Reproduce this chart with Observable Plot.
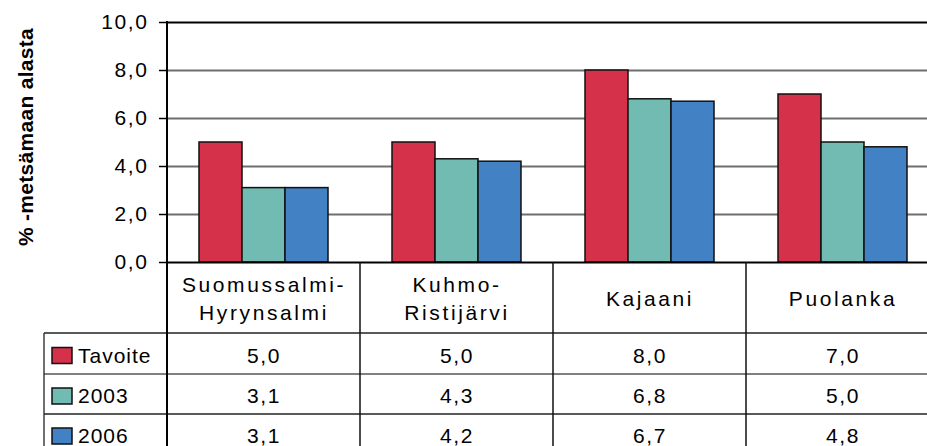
<!DOCTYPE html>
<html><head><meta charset="utf-8">
<script src="https://cdn.jsdelivr.net/npm/d3@7"></script>
<script src="https://cdn.jsdelivr.net/npm/@observablehq/plot@0.6"></script>
<style>
html,body{margin:0;padding:0;background:#fff;overflow:hidden;}
</style></head><body><div id="chart"></div>
<script>
// ---- data ----
const regions = ["Suomussalmi-\nHyrynsalmi", "Kuhmo-\nRistijärvi", "Kajaani", "Puolanka"];
const seriesNames = ["Tavoite", "2003", "2006"];
const tavoite = [5.0, 5.0, 8.0, 7.0];
const y2003 = [3.1, 4.3, 6.8, 5.0];
const y2006 = [3.1, 4.2, 6.7, 4.8];
const yTicks = [0, 2, 4, 6, 8, 10];
const gridTicks = [2, 4, 6, 8];
const colors = ["#D5314A", "#72BBB2", "#4181C4"];
const yLabel = "% -metsämaan alasta";

const seriesValues = [tavoite, y2003, y2006];
const data = [];
seriesNames.forEach((s, i) => regions.forEach((r, j) => data.push({region: r, series: s, value: seriesValues[i][j], row: i})));
const fmt = d => d.toFixed(1).replace(".", ",");

// layout (pixels)
const W = 941, H = 446;
const FS = 21;
const labelRowH = 71, rowH = [41, 40, 40];
const rowTop = [labelRowH, labelRowH + rowH[0], labelRowH + rowH[0] + rowH[1]];
const rowMid = rowTop.map((t, i) => t + rowH[i] / 2 + 2);
const FONT = "'Liberation Sans', Arial, sans-serif";

const chart = Plot.plot({
  width: W, height: H,
  marginTop: 22, marginLeft: 165, marginRight: 1, marginBottom: 184,
  style: `font-family: ${FONT}; font-size: ${FS}px; letter-spacing: 1.6px; background: #fff; overflow: visible; max-width: none; width: ${W}px; height: ${H}px;`,
  fx: {domain: regions, padding: 0, axis: null},
  x: {domain: seriesNames, paddingInner: 0, paddingOuter: 0.74, axis: null},
  y: {domain: [0, 10], axis: null},
  color: {domain: seriesNames, range: colors},
  marks: [
    Plot.ruleY(gridTicks, {stroke: "#6f6f6f", strokeWidth: 2}),
    Plot.barY(data, {fx: "region", x: "series", y: "value", fill: "series", stroke: "#111", strokeWidth: 1.5}),
    Plot.ruleY([10], {stroke: "#000", strokeWidth: 2}),
    Plot.ruleY([0], {stroke: "#000", strokeWidth: 2}),
    Plot.axisY({ticks: yTicks, tickFormat: fmt, tickSize: 8, tickPadding: 11, label: null, stroke: "#000", strokeWidth: 1.5, fontSize: FS}),
    Plot.text(regions, {fx: d => d, text: d => d, frameAnchor: "bottom", lineAnchor: "middle", dy: 35, lineHeight: 1.33, fontSize: FS}),
    ...seriesNames.map((s, i) => Plot.text(data.filter(d => d.row === i), {fx: "region", text: d => fmt(d.value), frameAnchor: "bottom", lineAnchor: "middle", dy: rowMid[i], fontSize: FS}))
  ]
});
document.getElementById("chart").appendChild(chart);

// ---- table grid, legend keys and axis title using the plot's scales ----
const fx = chart.scale("fx"), y = chart.scale("y"), color = chart.scale("color");
const svg = d3.select(chart);
// category labels: wider letter spacing
const flatRegions = regions.map(r => r.replace("\n", ""));
svg.selectAll("text").filter(function() { return flatRegions.includes(this.textContent); })
  .style("letter-spacing", "2.6px");
const y0 = y.apply(0), yTop = y.apply(10);
const left = fx.apply(regions[0]);
const g = svg.append("g");
// horizontal table lines
const hStyles = [["#222", 1.3], ["#808080", 2], ["#222", 1.3]];
rowTop.forEach((t, i) => g.append("line").attr("x1", 44).attr("x2", W).attr("y1", y0 + t).attr("y2", y0 + t)
  .attr("stroke", hStyles[i][0]).attr("stroke-width", hStyles[i][1]));
// vertical lines
g.append("line").attr("x1", 44).attr("x2", 44).attr("y1", y0 + rowTop[0]).attr("y2", H).attr("stroke", "#222").attr("stroke-width", 1.3);
regions.slice(1).forEach(r => {
  const x = fx.apply(r);
  g.append("line").attr("x1", x).attr("x2", x).attr("y1", y0).attr("y2", H).attr("stroke", "#111").attr("stroke-width", 1.5);
});
const xEnd = fx.apply(regions[3]) + fx.bandwidth;
g.append("line").attr("x1", xEnd).attr("x2", xEnd).attr("y1", yTop).attr("y2", H).attr("stroke", "#000").attr("stroke-width", 2);
g.append("line").attr("x1", left).attr("x2", left).attr("y1", yTop - 1).attr("y2", H).attr("stroke", "#000").attr("stroke-width", 2);
// legend keys
seriesNames.forEach((s, i) => {
  const cy = y0 + rowMid[i];
  g.append("rect").attr("x", 52).attr("y", cy - 8).attr("width", 20).attr("height", 16)
    .attr("fill", color.apply(s)).attr("stroke", "#111").attr("stroke-width", 1.5);
  g.append("text").attr("x", 78).attr("y", cy).attr("dy", "0.35em").attr("text-anchor", "start")
    .attr("font-size", FS).attr("fill", "#000").style("letter-spacing", "1px").text(s);
});
// axis title
svg.append("text").attr("transform", `translate(33,${(yTop + y0) / 2 - 5}) rotate(-90)`)
  .attr("text-anchor", "middle").attr("font-weight", "bold").attr("font-size", FS).attr("fill", "#000")
  .style("letter-spacing", "0.3px").text(yLabel);
</script>
</body></html>
